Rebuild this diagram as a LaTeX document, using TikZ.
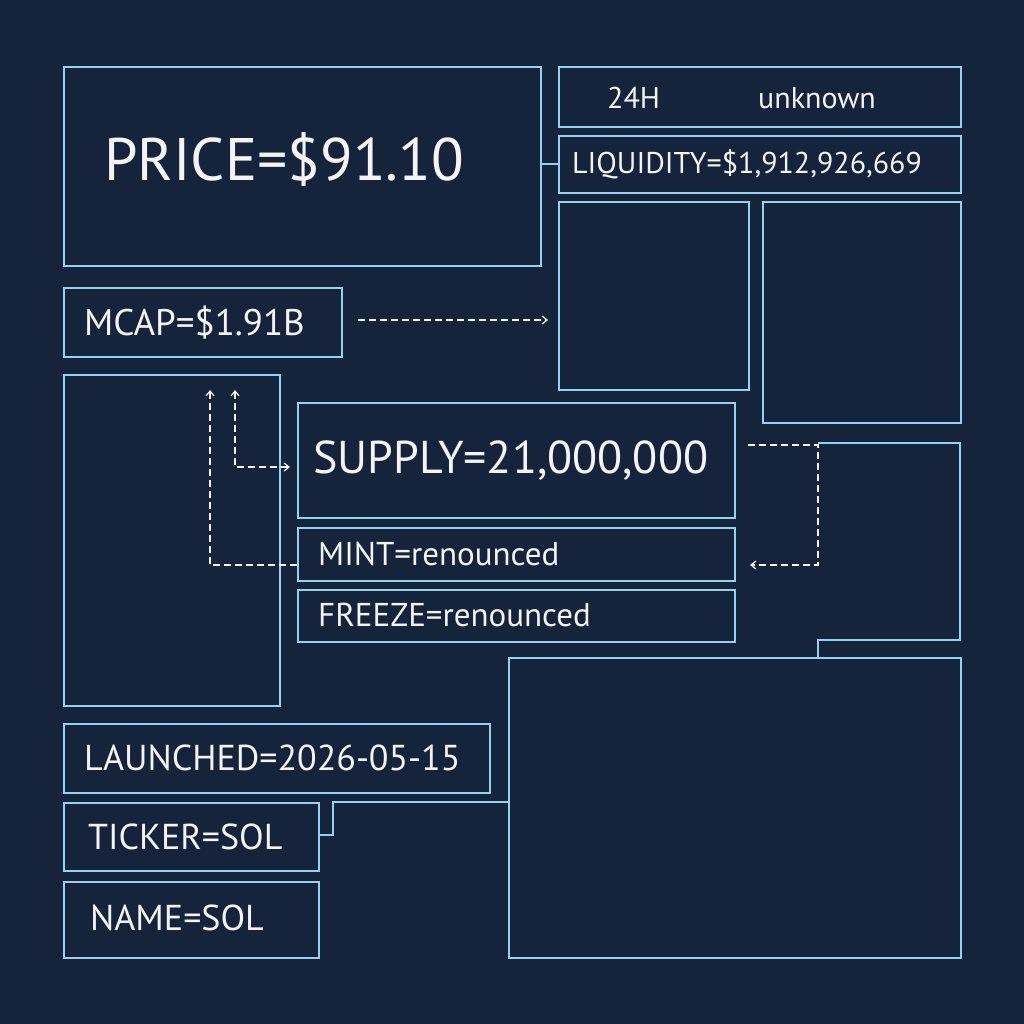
\documentclass[tikz,border=0pt]{standalone}
\usepackage{fontspec}
\setmainfont{PT Sans}
\usetikzlibrary{arrows.meta}
\definecolor{bgcol}{HTML}{15243A}
\definecolor{linecol}{HTML}{8FD3EE}
\definecolor{txtcol}{HTML}{F2F4F6}
\tikzset{
  panel/.style={draw=linecol, line width=1.8pt, anchor=north west, inner sep=0pt},
  lbl/.style={anchor=west, text=txtcol, inner sep=0pt},
  link/.style={draw=linecol, line width=1.8pt},
  flow/.style={draw=txtcol!90, line width=1.2pt, dash pattern=on 7pt off 4pt, -{Straight Barb[length=5pt,width=8pt]}}
}
\newcommand{\panelbox}[5]{% name, x1, y1, x2, y2
  \node[panel, minimum width=#4pt-#2pt, minimum height=#5pt-#3pt] (#1) at (#2,#3) {};}
\begin{document}
\begin{tikzpicture}[x=1pt,y=-1pt]
\fill[bgcol] (0,0) rectangle (1024,1024);
\useasboundingbox (0,0) rectangle (1024,1024);
% panels
\panelbox{price}{63}{66}{540}{265}
\panelbox{daily}{558}{66}{960}{126}
\panelbox{liq}{558}{135}{960}{192}
\panelbox{sqa}{558}{201}{748}{389}
\panelbox{sqb}{762}{201}{960}{422}
\panelbox{mcap}{63}{287}{341}{356}
\panelbox{tall}{63}{374}{279}{705}
\panelbox{supply}{297}{402}{734}{517}
\panelbox{mint}{297}{527}{734}{580}
\panelbox{freeze}{297}{589}{734}{641}
\panelbox{big}{508}{657}{960}{957}
\panelbox{launch}{63}{723}{489}{792}
\panelbox{ticker}{63}{802}{318}{870}
\panelbox{name}{63}{881}{318}{957}
% right panel, open on the left
\draw[link] (818,443) -- (960,443) -- (960,640) -- (818,640) -- (big.north -| 818,0);
% labels
\node[lbl, font=\fontsize{60}{64}\selectfont] (tprice) at (104,160) {PRICE=\$91.10};
\node[lbl, font=\fontsize{30}{33}\selectfont] (tdaily) at (607,98) {24H};
\node[lbl, font=\fontsize{30}{33}\selectfont] (tunk) at (758,98) {unknown};
\node[lbl, font=\fontsize{30}{33}\selectfont] (tliq) at (572,164) {LIQUIDITY=\$1,912,926,669};
\node[lbl, font=\fontsize{37}{40}\selectfont] (tmcap) at (84,323) {MCAP=\$1.91B};
\node[lbl, font=\fontsize{46}{50}\selectfont] (tsupply) at (313,461) {SUPPLY=21,000,000};
\node[lbl, font=\fontsize{33}{36}\selectfont] (tmint) at (318,554) {MINT=renounced};
\node[lbl, font=\fontsize{33}{36}\selectfont] (tfreeze) at (318,615) {FREEZE=renounced};
\node[lbl, font=\fontsize{36}{40}\selectfont] (tlaunch) at (84,758) {LAUNCHED=2026-05-15};
\node[lbl, font=\fontsize{36}{40}\selectfont] (tticker) at (88,837) {TICKER=SOL};
\node[lbl, font=\fontsize{36}{40}\selectfont] (tname) at (90,918) {NAME=SOL};
% solid links
\draw[link] (price.east |- liq.west) -- (liq.west);
\draw[link] (ticker.east |- 0,835) -- (333,835) -- (333,802) -- (big.west |- 0,802);
% dashed flows
\coordinate (mcapend) at (548,320);
\draw[flow] (358,320) -- (mcapend);
\coordinate (upa) at (210,390);
\coordinate (upb) at (235,390);
\draw[flow] (mint.west |- 0,565) -- (210,565) -- (upa);
\draw[flow, {Straight Barb[length=5pt,width=8pt]}-{Straight Barb[length=5pt,width=8pt]}] (upb) -- (235,467) -- (290,467);
\draw[flow] (748,445) -- (818,445) -- (818,565) -- (750,565);
\end{tikzpicture}
\end{document}
